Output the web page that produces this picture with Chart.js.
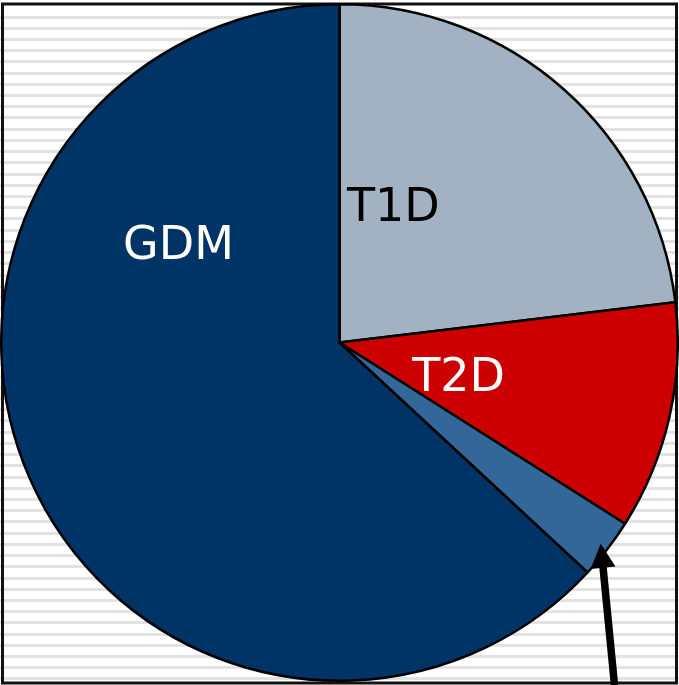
<!DOCTYPE html>
<html>
<head>
<meta charset="utf-8">
<script src="https://cdn.jsdelivr.net/npm/chart.js@4/dist/chart.umd.min.js"></script>
<style>
  html, body { margin: 0; padding: 0; background: #fff; }
  #wrap { width: 679px; height: 685px; }
</style>
</head>
<body>
<div id="wrap"><canvas id="pieChart" width="679" height="685"></canvas></div>
<script>
// slices clockwise from 12 o'clock
const categories = ["T1D", "T2D", "Other", "GDM"];
const shares = [23.1, 10.9, 2.9, 63.1];
const sliceColors = ["#A3B2C2", "#CC0000", "#336699", "#003366"];
const labelColors = ["#000000", "#ffffff", null, "#ffffff"];
// label placement as offsets from the pie centre, in units of the radius
const labelOffsets = [[0.159, -0.400], [0.352, 0.103], null, [-0.476, -0.288]];

const stripedBackground = {
    id: "stripedBackground",
    beforeDraw(chart) {
        const ctx = chart.ctx;
        const w = chart.width, h = chart.height;
        ctx.save();
        ctx.fillStyle = "#ffffff";
        ctx.fillRect(0, 0, w, h);
        ctx.fillStyle = "#e2e2e2";
        for (let y = 15.5; y < h; y += 11.22) {
            ctx.fillRect(0, Math.round(y), w, 3);
        }
        ctx.strokeStyle = "#111111";
        ctx.lineWidth = 3;
        ctx.strokeRect(2.5, 4, w - 5, h - 6);
        ctx.restore();
    }
};

const sliceLabels = {
    id: "sliceLabels",
    afterDraw(chart) {
        const ctx = chart.ctx;
        const arcs = chart.getDatasetMeta(0).data;
        ctx.save();
        ctx.font = "46px 'DejaVu Sans', Verdana, sans-serif";
        ctx.textAlign = "center";
        ctx.textBaseline = "middle";
        arcs.forEach(function (arc, i) {
            if (!labelOffsets[i]) return;
            const r = arc.outerRadius;
            ctx.fillStyle = labelColors[i];
            ctx.fillText(categories[i], arc.x + labelOffsets[i][0] * r, arc.y + labelOffsets[i][1] * r + 2);
        });

        // arrow pointing at the small slice
        const small = arcs[2];
        const mid = (small.startAngle + small.endAngle) / 2;
        const r = small.outerRadius;
        const tipX = small.x + Math.cos(mid) * r * 0.975;
        const tipY = small.y + Math.sin(mid) * r * 0.975;
        const tailX = tipX + 0.041 * r;
        const tailY = tipY + 0.42 * r;
        const ang = Math.atan2(tipY - tailY, tipX - tailX);
        const headLen = 24, headHalf = 12.5;
        const baseX = tipX - Math.cos(ang) * headLen;
        const baseY = tipY - Math.sin(ang) * headLen;
        ctx.strokeStyle = "#000";
        ctx.lineWidth = 7.5;
        ctx.beginPath();
        ctx.moveTo(tailX, tailY);
        ctx.lineTo(baseX + Math.cos(ang) * 2, baseY + Math.sin(ang) * 2);
        ctx.stroke();
        ctx.fillStyle = "#000";
        ctx.beginPath();
        ctx.moveTo(tipX, tipY);
        ctx.lineTo(baseX - Math.sin(ang) * headHalf, baseY + Math.cos(ang) * headHalf);
        ctx.lineTo(baseX + Math.sin(ang) * headHalf, baseY - Math.cos(ang) * headHalf);
        ctx.closePath();
        ctx.fill();
        ctx.restore();
    }
};

new Chart(document.getElementById("pieChart").getContext("2d"), {
    type: "pie",
    data: {
        labels: categories,
        datasets: [{
            data: shares,
            backgroundColor: sliceColors,
            borderColor: "#000000",
            borderWidth: 2.5
        }]
    },
    options: {
        responsive: false,
        animation: false,
        layout: { padding: 0 },
        plugins: {
            legend: { display: false },
            tooltip: { enabled: false }
        }
    },
    plugins: [stripedBackground, sliceLabels]
});
</script>
</body>
</html>
